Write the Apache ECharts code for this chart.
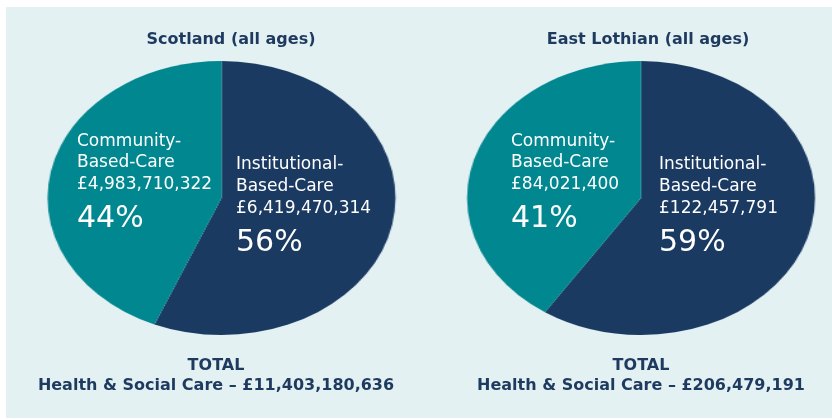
<!DOCTYPE html>
<html>
<head>
<meta charset="utf-8">
<script src="https://cdn.jsdelivr.net/npm/echarts@6/dist/echarts.min.js"></script>
<style>
  body { margin: 0; background: #fff; }
  #wrap { position: relative; width: 832px; height: 419px; overflow: hidden; }
  #panel { position: absolute; left: 6px; top: 7px; width: 826px; height: 411px; background: #e3f1f3; }
  #pies { position: absolute; left: 0; top: 0; height: 419px; transform-origin: 0 0; }
  #labels { position: absolute; left: 0; top: 0; width: 832px; height: 419px; }
</style>
</head>
<body>
<div id="wrap">
  <div id="panel"></div>
  <div id="pies"></div>
  <div id="labels"></div>
</div>
<script>
var regions = ['Scotland (all ages)', 'East Lothian (all ages)'];
var categories = ['Institutional-Based-Care', 'Community-Based-Care'];
var institutional = [6419470314, 122457791];
var community = [4983710322, 84021400];

var NAVY = '#1a3a62';
var TEAL = '#00878f';
var TEXT = '#1e3a5f';
var FONT = '"DejaVu Sans", sans-serif';

// pies are drawn as circles and stretched sideways to get the ellipse look
var stretch = 1.27;
var pieCx = [221.5, 641];
var pieCy = 198;
var pieR = 137;

function money(v) {
    return '\u00a3' + String(v).replace(/\B(?=(\d{3})+(?!\d))/g, ',');
}

var pieDom = document.getElementById('pies');
pieDom.style.width = (832 / stretch) + 'px';
pieDom.style.transform = 'scaleX(' + stretch + ')';

var pieChart = echarts.init(pieDom, null, { renderer: 'canvas' });
var pieSeries = [];
for (var i = 0; i < regions.length; i++) {
    pieSeries.push({
        type: 'pie',
        center: [pieCx[i] / stretch, pieCy],
        radius: pieR,
        startAngle: 90,
        clockwise: true,
        silent: true,
        label: { show: false },
        labelLine: { show: false },
        itemStyle: { borderWidth: 0 },
        data: [
            { name: categories[0], value: institutional[i], itemStyle: { color: NAVY } },
            { name: categories[1], value: community[i], itemStyle: { color: TEAL } }
        ]
    });
}
pieChart.setOption({ animation: false, series: pieSeries });

// text layer
var labelChart = echarts.init(document.getElementById('labels'));
var graphics = [];
function txt(x, y, s, size, weight, color, align) {
    graphics.push({
        type: 'text', x: x, y: y, silent: true,
        style: {
            text: s, fill: color, font: weight + ' ' + size + 'px ' + FONT,
            align: align || 'left', verticalAlign: 'middle'
        }
    });
}

var titleCx = [231, 648];
var totalCx = [216, 641];
var commX = [77, 511];
var instX = [236, 659];

for (var j = 0; j < regions.length; j++) {
    var total = institutional[j] + community[j];
    var commPct = Math.round(community[j] / total * 100);
    var instPct = Math.round(institutional[j] / total * 100);

    txt(titleCx[j], 40, regions[j], 16, 'bold', TEXT, 'center');

    txt(commX[j], 142, 'Community-', 17, 'normal', '#fff');
    txt(commX[j], 163, 'Based-Care', 17, 'normal', '#fff');
    txt(commX[j], 185, money(community[j]), 17, 'normal', '#fff');
    txt(commX[j], 219, commPct + '%', 30, 'normal', '#fff');

    txt(instX[j], 165, 'Institutional-', 17, 'normal', '#fff');
    txt(instX[j], 187, 'Based-Care', 17, 'normal', '#fff');
    txt(instX[j], 209, money(institutional[j]), 17, 'normal', '#fff');
    txt(instX[j], 243, instPct + '%', 30, 'normal', '#fff');

    txt(totalCx[j], 366, 'TOTAL', 16, 'bold', TEXT, 'center');
    txt(totalCx[j], 386, 'Health & Social Care \u2013 ' + money(total), 16, 'bold', TEXT, 'center');
}
labelChart.setOption({ animation: false, graphic: graphics });
</script>
</body>
</html>
